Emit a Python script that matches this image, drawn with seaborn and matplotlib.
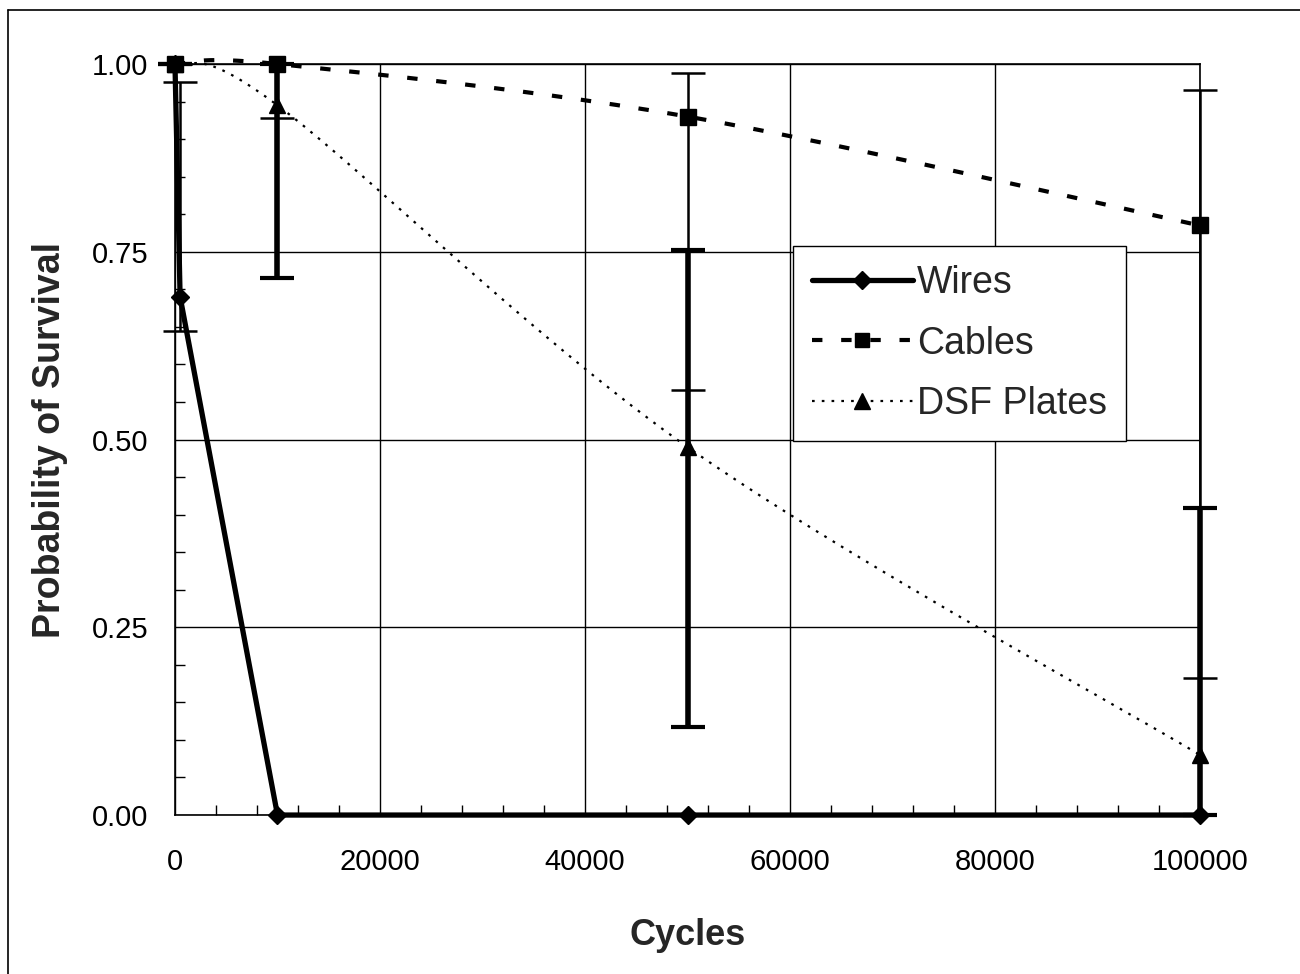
import numpy as np
import pandas as pd
import matplotlib
matplotlib.use("Agg")
import matplotlib.pyplot as plt
from matplotlib.lines import Line2D
import seaborn as sns

# data
wires_x = [0, 500, 10000, 50000, 100000]
wires_y = [1.0, 0.69, 0.0, 0.0, 0.0]
wires_err_x = [500]
wires_err_y = [0.69]
wires_lo = [0.645]
wires_hi = [0.976]

cables_x = [0, 10000, 50000, 100000]
cables_y = [1.0, 1.0, 0.93, 0.785]
cables_lo = [1.0, 0.928, 0.566, 0.182]
cables_hi = [1.0, 1.0, 0.988, 0.965]

dsf_x = [0, 10000, 50000, 100000]
dsf_y = [1.0, 0.945, 0.49, 0.08]
dsf_lo = [1.0, 0.715, 0.117, 0.0]
dsf_hi = [1.0, 1.0, 0.753, 0.409]

x_ticks = [0, 20000, 40000, 60000, 80000, 100000]
y_ticks = [0.0, 0.25, 0.5, 0.75, 1.0]


def smooth(xs, ys, n=60):
    # excel style smoothed line (catmull-rom bezier)
    p = np.column_stack([xs, ys]).astype(float)
    out = []
    for i in range(len(p) - 1):
        p0 = p[i - 1] if i > 0 else p[i]
        p1, p2 = p[i], p[i + 1]
        p3 = p[i + 2] if i + 2 < len(p) else p[i + 1]
        b1 = p1 + (p2 - p0) / 6
        b2 = p2 - (p3 - p1) / 6
        t = np.linspace(0, 1, n)[:, None]
        seg = ((1 - t) ** 3) * p1 + 3 * ((1 - t) ** 2) * t * b1 + 3 * (1 - t) * t ** 2 * b2 + t ** 3 * p2
        out.append(seg if i == 0 else seg[1:])
    s = np.vstack(out)
    return pd.DataFrame({"x": s[:, 0], "y": s[:, 1]})


sns.set_theme(style="white")
plt.rcParams["font.family"] = ["Liberation Sans", "DejaVu Sans"]

fig = plt.figure(figsize=(13, 9.74), dpi=100)
ax = fig.add_axes([0.1346, 0.1632, 0.7885, 0.7711])

# outer frame (only left/top visible in reference)
fig.add_artist(plt.Line2D([0.006, 0.006], [0, 0.99], color="black", lw=1.2, transform=fig.transFigure))
fig.add_artist(plt.Line2D([0.006, 1.0], [0.99, 0.99], color="black", lw=1.2, transform=fig.transFigure))

cab = smooth(cables_x, cables_y)
dsf = smooth(dsf_x, dsf_y)
sns.lineplot(data=cab, x="x", y="y", sort=False, estimator=None, ax=ax,
             color="black", lw=3, linestyle=(0, (2.5, 4.5)), clip_on=False)
sns.lineplot(data=dsf, x="x", y="y", sort=False, estimator=None, ax=ax,
             color="black", lw=1.6, linestyle=(0, (1.2, 3.2)), clip_on=False)
sns.lineplot(x=wires_x, y=wires_y, sort=False, estimator=None, ax=ax,
             color="black", lw=3.8, clip_on=False)

# error bars
ax.errorbar(cables_x, cables_y,
            yerr=[np.subtract(cables_y, cables_lo), np.subtract(cables_hi, cables_y)],
            fmt="none", ecolor="black", elinewidth=1.8, capsize=12, capthick=1.8, clip_on=False)
ax.errorbar(wires_err_x, wires_err_y,
            yerr=[np.subtract(wires_err_y, wires_lo), np.subtract(wires_hi, wires_err_y)],
            fmt="none", ecolor="black", elinewidth=1.8, capsize=12, capthick=1.8, clip_on=False)
ax.errorbar(dsf_x, dsf_y,
            yerr=[np.subtract(dsf_y, dsf_lo), np.subtract(dsf_hi, dsf_y)],
            fmt="none", ecolor="black", elinewidth=4, capsize=12, capthick=3, clip_on=False)

# markers
ax.plot(dsf_x, dsf_y, ls="none", marker="^", ms=12, color="black", clip_on=False, zorder=5)
ax.plot(cables_x, cables_y, ls="none", marker="s", ms=12, color="black", clip_on=False, zorder=5)
ax.plot(wires_x, wires_y, ls="none", marker="D", ms=9, color="black", clip_on=False, zorder=5)

ax.set_xlim(0, 100000)
ax.set_ylim(0, 1)
ax.set_xticks(x_ticks)
ax.set_xticklabels([str(v) for v in x_ticks])
ax.set_yticks(y_ticks)
ax.set_yticklabels([f"{v:.2f}" for v in y_ticks])
ax.set_xticks(np.arange(0, 100001, 4000), minor=True)
ax.set_yticks(np.arange(0, 1.0001, 0.05), minor=True)
ax.tick_params(axis="both", which="major", length=0, labelsize=21, colors="black")
ax.tick_params(axis="x", which="major", pad=24)
ax.tick_params(axis="y", which="major", pad=19)
ax.tick_params(axis="both", which="minor", direction="in", length=7, width=1, color="black",
               bottom=True, left=True)
ax.grid(True, which="major", color="black", lw=1)
for s in ax.spines.values():
    s.set_color("black")
    s.set_linewidth(1.2)

ax.set_xlabel("Cycles", fontsize=26, fontweight="bold", labelpad=30)
ax.set_ylabel("Probability of Survival", fontsize=27, fontweight="bold", labelpad=17)

handles = [
    Line2D([], [], color="black", lw=3.8, marker="D", ms=9),
    Line2D([], [], color="black", lw=3, linestyle=(0, (2.5, 4.5)), marker="s", ms=10),
    Line2D([], [], color="black", lw=1.6, linestyle=(0, (1.2, 3.2)), marker="^", ms=12),
]
leg = ax.legend(handles, ["Wires", "Cables", "DSF Plates"], loc="upper left",
                bbox_to_anchor=(0.603, 0.757), fontsize=27, frameon=True, fancybox=False,
                edgecolor="black", framealpha=1, handlelength=2.7, handletextpad=0.1,
                borderpad=0.5, labelspacing=0.65, borderaxespad=0)
leg.get_frame().set_linewidth(1)

fig.savefig("out.png", dpi=100, facecolor="white")
